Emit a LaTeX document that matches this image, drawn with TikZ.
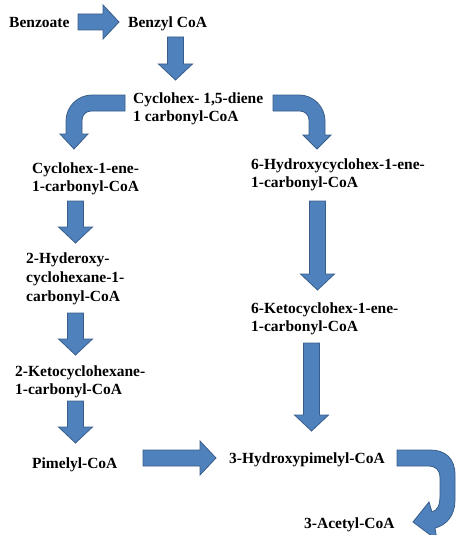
\documentclass[tikz,border=0pt]{standalone}
\usepackage{fontspec}
\setmainfont{Liberation Serif}
\usepackage{tikz}
\usetikzlibrary{positioning}
\definecolor{arrowfill}{RGB}{79,129,189}
\definecolor{arrowline}{RGB}{56,93,138}
\tikzset{blockarrow/.style={fill=arrowfill, draw=arrowline, line width=0.8pt, line join=miter},
         compound/.style={anchor=north west, inner sep=0pt, align=left,
                          font=\fontsize{15.5}{17.5}\selectfont\bfseries},
         pics/downblock/.style={code={
             \draw[blockarrow] (-8,0) -- (8,0) -- (8,#1-16) -- (17,#1-16) -- (0,#1)
                 -- (-17,#1-16) -- (-8,#1-16) -- cycle;}},
         pics/rightblock/.style={code={
             \draw[blockarrow] (0,-8) -- (#1-16,-8) -- (#1-16,-17) -- (#1,0)
                 -- (#1-16,17) -- (#1-16,8) -- (0,8) -- cycle;}}}

\begin{document}
\begin{tikzpicture}[x=1pt, y=-1pt]
    \useasboundingbox (0,0) rectangle (456,535);

    % compounds
    \node[compound] (benzoate) at (9,17) {Benzoate};
    \node[compound] (benzylcoa) at (128,17) {Benzyl CoA};
    \node[compound] (diene) at (133,93) {Cyclohex- 1,5-diene\\1 carbonyl-CoA};
    \node[compound] (ene) at (32,163) {Cyclohex-1-ene-\\1-carbonyl-CoA};
    \node[compound] (hydroxyene) at (251,159) {6-Hydroxycyclohex-1-ene-\\1-carbonyl-CoA};
    \node[compound, font=\fontsize{15.5}{18.7}\selectfont\bfseries] (hyderoxy) at (26,253)
        {2-Hyderoxy-\\cyclohexane-1-\\carbonyl-CoA};
    \node[compound] (ketoene) at (251,303) {6-Ketocyclohex-1-ene-\\1-carbonyl-CoA};
    \node[compound] (ketohexane) at (15,366) {2-Ketocyclohexane-\\1-carbonyl-CoA};
    \node[compound] (pimelyl) at (32,458) {Pimelyl-CoA};
    \node[compound] (hydroxypimelyl) at (229,453) {3-Hydroxypimelyl-CoA};
    \node[compound] (acetyl) at (304,518) {3-Acetyl-CoA};

    % straight arrows
    \pic at (78,22) {rightblock=41};
    \pic at (175.5,37) {downblock=43};
    \pic at (75.5,201) {downblock=42};
    \pic at (75.5,313) {downblock=42};
    \pic at (75.5,401) {downblock=42};
    \pic at (143,458) {rightblock=73};
    \pic at (317.5,201) {downblock=89};
    \pic at (311.5,343) {downblock=88};

    % bent arrows
    \draw[blockarrow] (125,95) [rounded corners=26pt] -- (66,95) [sharp corners] -- (66,134)
        -- (60,134) -- (74,149) -- (88,134) -- (82,134) [rounded corners=9pt] -- (82,111)
        [sharp corners] -- (125,111) -- cycle;
    \draw[blockarrow] (273,95) [rounded corners=26pt] -- (325,95) [sharp corners] -- (325,135)
        -- (331,135) -- (317,149) -- (303,135) -- (309,135) [rounded corners=9pt] -- (309,111)
        [sharp corners] -- (273,111) -- cycle;
    \draw[blockarrow] (397,450) -- (430,450) .. controls (445,450) and (455,458) .. (455,475)
        -- (455,500) .. controls (455,515) and (447,525) .. (435,528) -- (437,540) -- (413,522)
        -- (429,502) -- (432,512) .. controls (438,510) and (440,505) .. (440,495)
        -- (440,478) .. controls (440,470) and (436,466) .. (428,466) -- (397,466) -- cycle;
\end{tikzpicture}
\end{document}
